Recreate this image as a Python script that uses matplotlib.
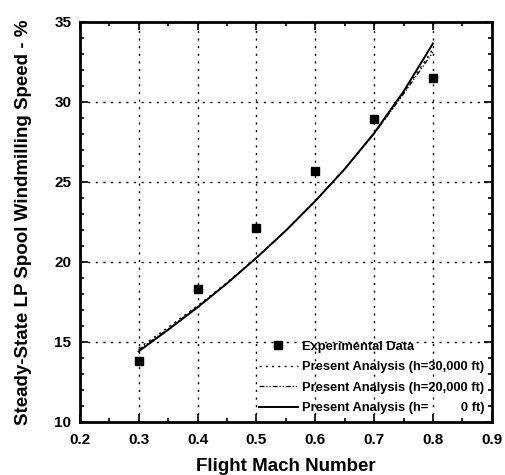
import numpy as np
import matplotlib
matplotlib.use("Agg")
import matplotlib.pyplot as plt
from matplotlib.ticker import MultipleLocator

plt.rcParams['font.family'] = ['Liberation Sans', 'DejaVu Sans']

# experimental data
mach_exp = [0.3, 0.4, 0.5, 0.6, 0.7, 0.8]
speed_exp = [13.8, 18.3, 22.1, 25.7, 28.95, 31.5]

# analysis curves
mach_ana = [0.3, 0.35, 0.4, 0.45, 0.5, 0.55, 0.6, 0.65, 0.7, 0.75, 0.8]
speed_30k = [14.6, 15.9, 17.25, 18.7, 20.25, 21.95, 23.8, 25.8, 28.0, 30.55, 33.3]
speed_20k = [14.5, 15.8, 17.2, 18.65, 20.25, 21.95, 23.8, 25.8, 28.0, 30.5, 33.1]
speed_0 = [14.4, 15.75, 17.15, 18.65, 20.25, 21.95, 23.8, 25.8, 28.05, 30.65, 33.65]

fig = plt.figure(figsize=(5.05, 4.75), dpi=100)
ax = fig.add_axes([0.158, 0.112, 0.816, 0.842])

ax.plot(mach_exp, speed_exp, 's', color='black', markersize=5.5,
        label='Experimental Data', zorder=5)
ax.plot(mach_ana, speed_30k, color='black', lw=1.0, linestyle=(0, (1.5, 3)),
        label='Present Analysis (h=30,000 ft)')
ax.plot(mach_ana, speed_20k, color='black', lw=0.9, linestyle=(0, (4, 1.5, 1, 1.5, 1, 1.5)),
        label='Present Analysis (h=20,000 ft)')
ax.plot(mach_ana, speed_0, color='black', lw=1.4, linestyle='-',
        label='Present Analysis (h=         0 ft)')

ax.set_xlim(0.2, 0.9)
ax.set_ylim(10, 35)
ax.xaxis.set_major_locator(MultipleLocator(0.1))
ax.xaxis.set_minor_locator(MultipleLocator(0.05))
ax.yaxis.set_major_locator(MultipleLocator(5))
ax.yaxis.set_minor_locator(MultipleLocator(1))
ax.set_xticklabels([f'{v:.1f}' for v in ax.get_xticks()])

ax.tick_params(which='both', direction='in', top=True, right=True, width=1.2)
ax.tick_params(which='major', length=6, labelsize=11, pad=6)
ax.tick_params(axis='x', which='major', pad=8)
ax.tick_params(which='minor', length=3)
for lab in ax.get_xticklabels() + ax.get_yticklabels():
    lab.set_fontweight('bold')
for s in ax.spines.values():
    s.set_linewidth(2)

ax.grid(True, which='major', color='black', linestyle=(0, (1.5, 4)), lw=1.0)

ax.set_xlabel('Flight Mach Number', fontsize=13.5, fontweight='bold', labelpad=8)
ax.set_ylabel('Steady-State LP Spool Windmilling Speed - %', fontsize=13.5,
              fontweight='bold', labelpad=16)

leg = ax.legend(loc='lower right', frameon=False, fontsize=9.3, handlelength=3.0,
                labelspacing=0.65, borderaxespad=0.2, handletextpad=0.3)
for t in leg.get_texts():
    t.set_fontweight('bold')

fig.savefig('out.png', dpi=100)
